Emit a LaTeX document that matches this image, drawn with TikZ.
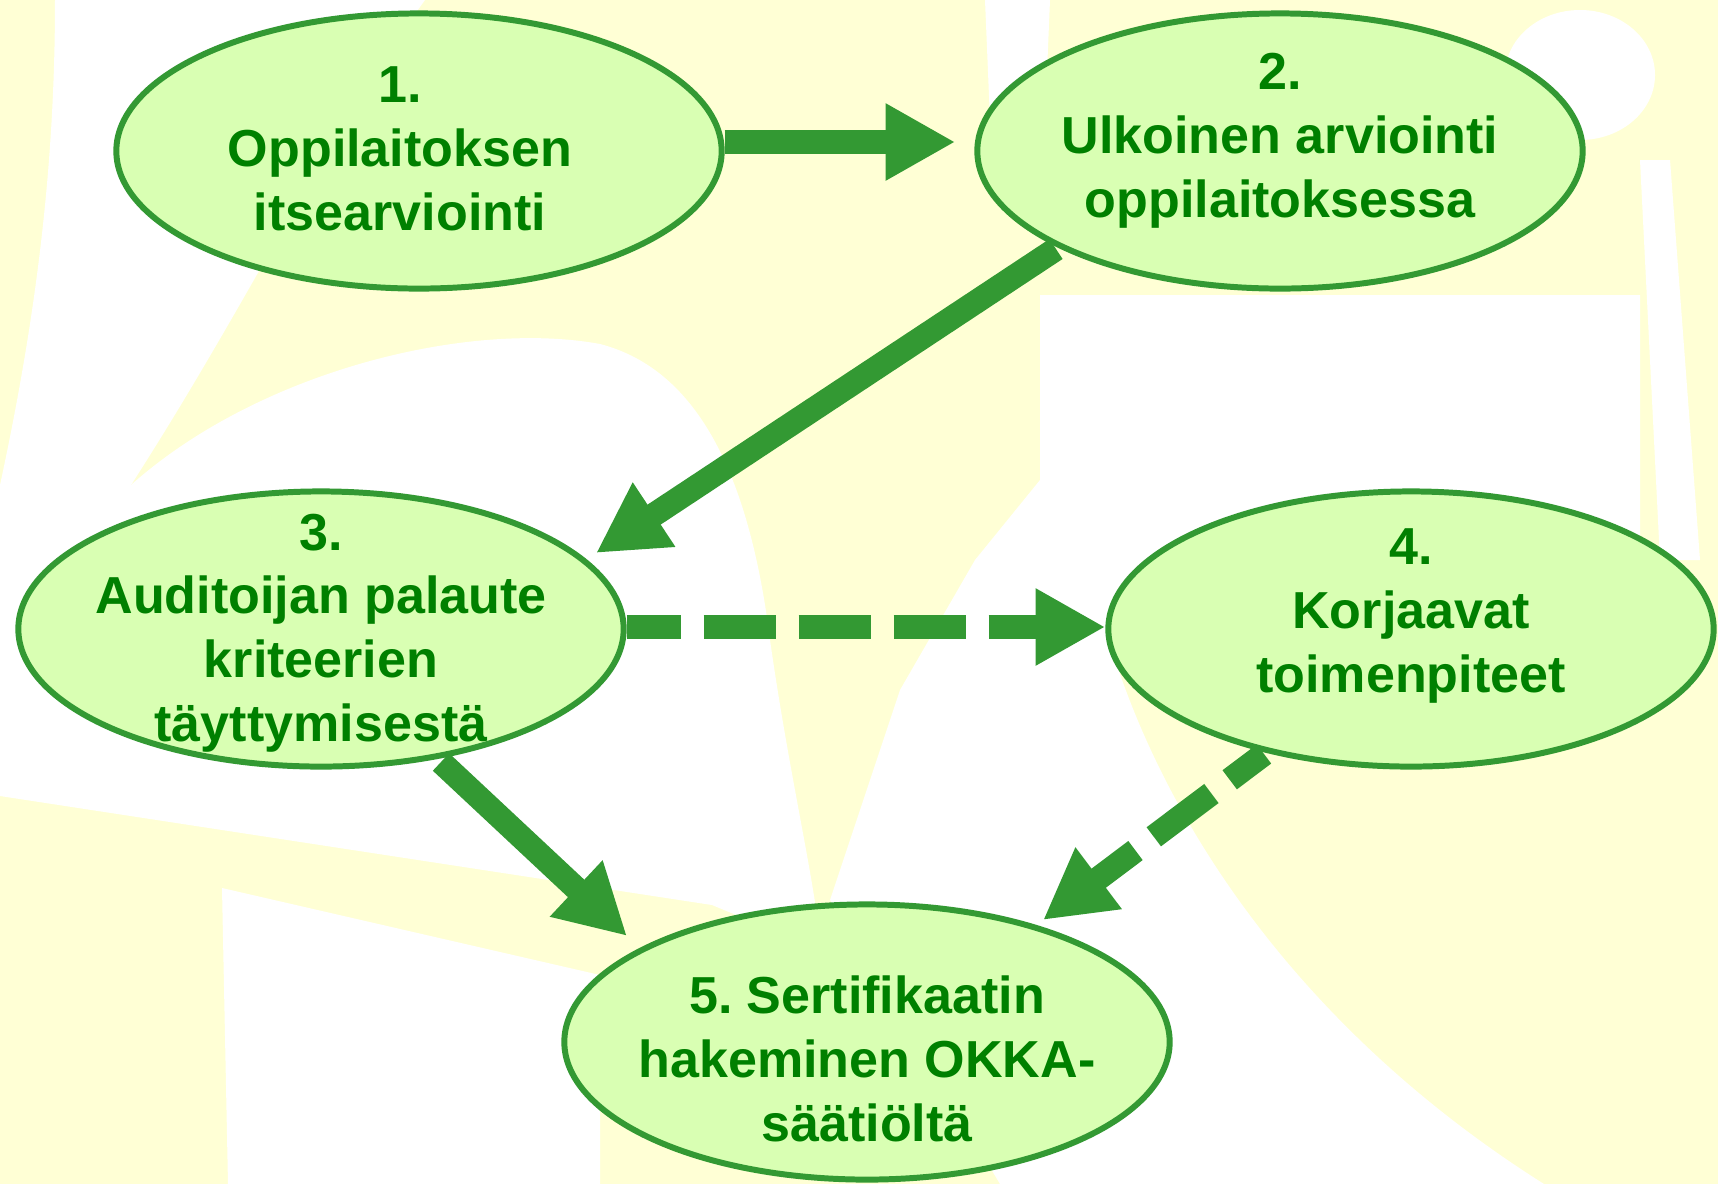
\documentclass[tikz,border=0pt]{standalone}
\usepackage{fontspec}
\setmainfont{Liberation Sans}
\frenchspacing
\usetikzlibrary{arrows.meta,calc,shapes.geometric}
\definecolor{bgyellow}{RGB}{255,255,213}
\definecolor{fillgreen}{RGB}{217,255,179}
\definecolor{bordergreen}{RGB}{51,153,51}
\definecolor{textgreen}{RGB}{0,128,0}
\tikzset{
  ell/.style={ellipse, draw=bordergreen, fill=fillgreen, line width=1.7pt,
    minimum width=6.05cm, minimum height=2.75cm, inner sep=0pt},
  txt/.style={font=\fontsize{14.8pt}{18.07pt}\selectfont\bfseries, text=textgreen,
    align=center, inner sep=0pt, anchor=base},
  arr/.style={draw=bordergreen, line width=6.8pt,
    -{Triangle[length=19.8pt,width=20.5pt]}},
  dasharr/.style={arr, dash pattern=on 20.5pt off 6.5pt},
  bgwhite/.style={fill=white, draw=none}
}
\begin{document}
\begin{tikzpicture}[x=0.01cm, y=-0.01cm]
\useasboundingbox (0,0) rectangle (1718,1184);
% background
\fill[bgyellow] (0,0) rectangle (1718,1184);
\path[bgwhite] (55,0) -- (425,0) .. controls (330,130) and (250,300) .. (131,485)
  -- (0,485) .. controls (40,300) and (55,150) .. (55,0) -- cycle;
\path[bgwhite] (0,485) -- (131,485) .. controls (260,370) and (470,320) .. (600,344)
  .. controls (700,370) and (750,480) .. (770,640)
  .. controls (790,780) and (815,880) .. (821,950) -- (712,905) -- (0,796) -- cycle;
\path[bgwhite] (222,888) -- (600,975) -- (600,1184) -- (228,1184) -- cycle;
\path[bgwhite] (985,0) -- (1050,0) -- (1045,120) -- (990,120) -- cycle;
\path[bgwhite] (1040,295) -- (1640,295) -- (1640,560)
  -- (1106,630) .. controls (1160,820) and (1300,1030) .. (1544,1184)
  -- (1000,1184) -- (830,900) -- (900,690) -- (975,560) -- (1040,480) -- cycle;
\path[bgwhite] (1580,75) ellipse [x radius=75, y radius=65];
\path[bgwhite] (1640,160) -- (1670,160) -- (1700,560) -- (1660,560) -- cycle;
% ellipses
\node[ell] (e1) at (419,151) {};
\node[ell] (e2) at (1280,151) {};
\node[ell] (e3) at (321,629) {};
\node[ell] (e4) at (1411,629) {};
\node[ell] (e5) at (867,1042) {};
% texts (anchored at the baseline of the last line)
\node[txt] (t1) at (400,230) {1.\\Oppilaitoksen\\itsearviointi};
\node[txt] (t2) at (1280,217) {2.\\Ulkoinen arviointi\\oppilaitoksessa};
\node[txt] (t3) at (321,741) {3.\\Auditoijan palaute\\kriteerien\\täyttymisestä};
\node[txt] (t4) at (1411,692) {4.\\Korjaavat\\toimenpiteet};
\node[txt] (t5) at (867,1141) {5. Sertifikaatin\\hakeminen OKKA-\\säätiöltä};
% connectors
\draw[arr] ($(e1.east)+(0,-9)$) -- ($(e2.west)+(-19,-9)$);
\draw[arr] ($(e2.center)+(-224,98)$) -- ($(e3.center)+(275,-76)$);
\draw[arr] ($(e3.center)+(120,133)$) -- ($(e5.center)+(-240,-106)$);
\draw[dasharr, dash phase=5.1pt] ($(e3.east)+(0,-2)$) -- ($(e4.west)+(0,-2)$);
\draw[dasharr, dash phase=8.3pt] ($(e4.center)+(-147,125)$) -- ($(e5.center)+(176,-122)$);
\end{tikzpicture}
\end{document}
